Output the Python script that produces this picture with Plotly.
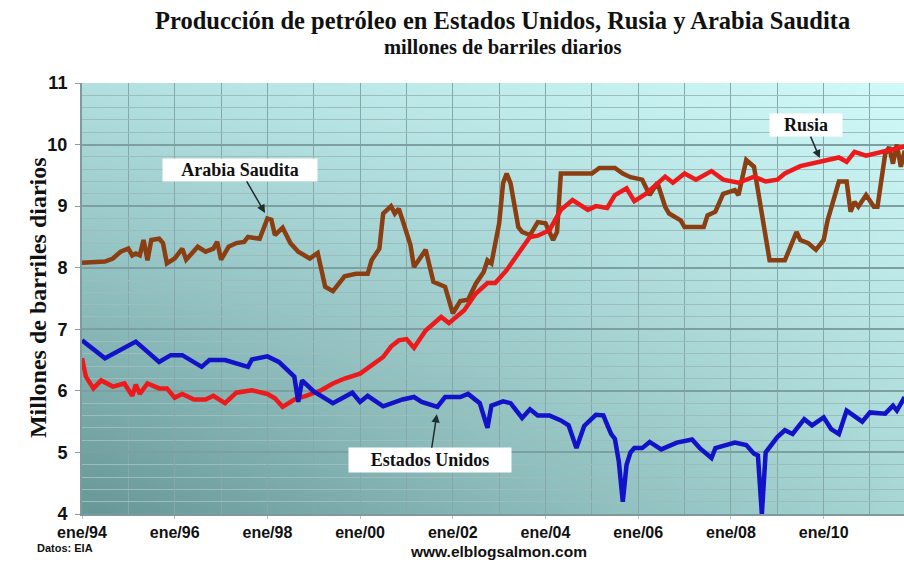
import base64, struct, zlib
import plotly.graph_objects as go

# ---------------- data (millones de barriles diarios) -------------
usa_dates = ["1994-01","1994-07","1995-03","1995-06","1995-09","1995-12","1996-03","1996-08","1996-10",
             "1997-02","1997-08","1997-09","1998-01","1998-04","1998-08","1998-09","1998-10","1999-01",
             "1999-03","1999-06","1999-11","2000-01","2000-03","2000-07","2000-12","2001-03","2001-05",
             "2001-09","2001-11","2002-03","2002-05","2002-08","2002-10","2002-11","2003-02","2003-04",
             "2003-07","2003-09","2003-11","2004-02","2004-05","2004-07","2004-09","2004-11","2005-02",
             "2005-04","2005-05","2005-06","2005-07","2005-08","2005-09","2005-10","2005-11","2005-12",
             "2006-02","2006-04","2006-07","2006-11","2007-03","2007-05","2007-08","2007-09","2008-02",
             "2008-05","2008-07","2008-08","2008-09","2008-10","2009-01","2009-03","2009-05","2009-08",
             "2009-10","2010-01","2010-03","2010-05","2010-07","2010-11","2011-01","2011-05","2011-07",
             "2011-08","2011-10"]
usa_values = [6.82,6.53,6.80,6.63,6.47,6.58,6.58,6.39,6.50,
              6.50,6.39,6.51,6.56,6.47,6.23,5.82,6.17,5.99,
              5.92,5.80,5.97,5.82,5.92,5.75,5.86,5.90,5.82,
              5.74,5.90,5.90,5.95,5.80,5.40,5.76,5.83,5.80,
              5.56,5.70,5.60,5.60,5.52,5.44,5.07,5.43,5.61,
              5.60,5.45,5.30,5.22,4.85,4.20,4.80,5.00,5.07,
              5.07,5.17,5.05,5.16,5.21,5.07,4.91,5.07,5.16,
              5.12,4.98,4.95,4.00,5.00,5.25,5.36,5.30,5.54,
              5.44,5.57,5.38,5.30,5.68,5.50,5.65,5.63,5.76,
              5.68,5.90]

rusia_dates = ["1994-01","1994-02","1994-04","1994-06","1994-09","1994-12","1995-02","1995-03","1995-04",
               "1995-06","1995-09","1995-11","1996-01","1996-03","1996-06","1996-09","1996-11","1997-02",
               "1997-05","1997-09","1998-01","1998-03","1998-05","1998-08","1998-11","1999-03","1999-06",
               "1999-09","2000-01","2000-05","2000-07","2000-09","2000-11","2001-01","2001-03","2001-06",
               "2001-10","2001-12","2002-04","2002-07","2002-10","2002-12","2003-03","2003-06","2003-09",
               "2003-11","2004-02","2004-05","2004-08","2004-12","2005-02","2005-05","2005-07","2005-10",
               "2005-12","2006-03","2006-08","2006-10","2007-01","2007-04","2007-08","2007-11","2008-03",
               "2008-07","2008-10","2009-01","2009-03","2009-07","2009-11","2010-02","2010-05","2010-07",
               "2010-09","2010-12","2011-04","2011-08","2011-10"]
rusia_values = [6.53,6.23,6.04,6.17,6.07,6.12,5.92,6.10,5.95,
                6.12,6.04,6.04,5.89,5.95,5.86,5.86,5.92,5.80,
                5.97,6.01,5.95,5.88,5.74,5.86,5.92,6.01,6.12,
                6.20,6.28,6.45,6.55,6.72,6.82,6.84,6.70,6.98,
                7.20,7.10,7.31,7.58,7.75,7.75,7.96,8.23,8.50,
                8.52,8.61,8.94,9.10,8.94,9.00,8.97,9.18,9.29,
                9.08,9.20,9.48,9.38,9.53,9.43,9.57,9.43,9.38,
                9.48,9.40,9.43,9.53,9.65,9.70,9.74,9.79,9.72,
                9.88,9.82,9.88,9.94,9.97]

arabia_dates = ["1994-01","1994-07","1994-09","1994-11","1995-01","1995-02","1995-03","1995-04","1995-05",
                "1995-06","1995-07","1995-09","1995-10","1995-11","1996-01","1996-03","1996-04","1996-07",
                "1996-09","1996-11","1996-12","1997-01","1997-03","1997-05","1997-07","1997-08","1997-11",
                "1998-01","1998-02","1998-03","1998-05","1998-07","1998-09","1998-12","1999-02","1999-04",
                "1999-06","1999-09","1999-12","2000-03","2000-04","2000-06","2000-07","2000-09","2000-10",
                "2000-11","2000-12","2001-02","2001-03","2001-06","2001-08","2001-11","2002-01","2002-03",
                "2002-05","2002-07","2002-09","2002-10","2002-11","2003-01","2003-02","2003-03","2003-04",
                "2003-06","2003-07","2003-09","2003-11","2004-01","2004-03","2004-04","2004-05","2004-08",
                "2005-01","2005-03","2005-07","2005-09","2005-11","2006-02","2006-04","2006-06","2006-08",
                "2006-09","2006-12","2007-01","2007-06","2007-07","2007-09","2007-11","2008-02","2008-03",
                "2008-05","2008-07","2008-08","2008-10","2008-11","2009-03","2009-06","2009-07","2009-09",
                "2009-11","2010-01","2010-02","2010-04","2010-05","2010-07","2010-08","2010-09","2010-10",
                "2010-12","2011-02","2011-03","2011-05","2011-06","2011-07","2011-08","2011-09","2011-10"]
arabia_values = [8.08,8.10,8.15,8.26,8.31,8.20,8.23,8.20,8.45,
                 8.12,8.45,8.47,8.40,8.07,8.15,8.31,8.13,8.34,
                 8.26,8.31,8.42,8.13,8.34,8.40,8.42,8.50,8.47,
                 8.80,8.78,8.53,8.65,8.40,8.26,8.15,8.24,7.69,
                 7.62,7.86,7.90,7.90,8.12,8.31,8.88,9.00,8.88,
                 8.96,8.77,8.37,8.01,8.29,7.77,7.69,7.26,7.46,
                 7.48,7.74,7.93,8.12,8.07,8.72,9.37,9.53,9.37,
                 8.66,8.58,8.53,8.74,8.72,8.45,8.58,9.53,9.53,
                 9.53,9.62,9.62,9.53,9.47,9.43,9.18,9.38,8.99,
                 8.88,8.77,8.66,8.66,8.85,8.91,9.20,9.26,9.18,
                 9.75,9.64,9.26,8.56,8.12,8.12,8.58,8.45,8.40,
                 8.29,8.45,8.77,9.20,9.40,9.40,8.91,9.07,8.99,
                 9.18,8.99,8.99,9.85,9.96,9.69,10.00,9.64,9.90]

tick_dates = ["1994-01-01","1996-01-01","1998-01-01","2000-01-01","2002-01-01",
              "2004-01-01","2006-01-01","2008-01-01","2010-01-01"]
tick_labels = ["ene/94","ene/96","ene/98","ene/00","ene/02","ene/04","ene/06","ene/08","ene/10"]

# ---------------- gradient background image -------------
def make_png(w, h, corners):
    tl, tr, bl, br = corners
    rows = []
    for j in range(h):
        v = j / (h - 1)
        row = bytearray([0])
        for i in range(w):
            u = i / (w - 1)
            for c in range(3):
                top = tl[c] * (1 - u) + tr[c] * u
                bot = bl[c] * (1 - u) + br[c] * u
                row.append(int(round(top * (1 - v) + bot * v)))
        rows.append(bytes(row))
    raw = b"".join(rows)
    def chunk(t, d):
        return struct.pack(">I", len(d)) + t + d + struct.pack(">I", zlib.crc32(t + d) & 0xffffffff)
    return (b"\x89PNG\r\n\x1a\n" + chunk(b"IHDR", struct.pack(">IIBBBBB", w, h, 8, 2, 0, 0, 0))
            + chunk(b"IDAT", zlib.compress(raw)) + chunk(b"IEND", b""))

bg_png = make_png(48, 48, [(178, 224, 224), (208, 249, 249), (104, 152, 152), (166, 214, 212)])
bg_uri = "data:image/png;base64," + base64.b64encode(bg_png).decode()

SERIF = "Liberation Serif, Times New Roman, serif"
SANS = "Liberation Sans, Arial, sans-serif"

fig = go.Figure()
fig.add_trace(go.Scatter(x=arabia_dates, y=arabia_values, mode="lines", name="Arabia Saudita",
                         line=dict(color="#8b3e12", width=4.5)))
fig.add_trace(go.Scatter(x=rusia_dates, y=rusia_values, mode="lines", name="Rusia",
                         line=dict(color="#ec1a1a", width=4.5)))
fig.add_trace(go.Scatter(x=usa_dates, y=usa_values, mode="lines", name="Estados Unidos",
                         line=dict(color="#1212c8", width=4.5)))

grid_major = "#86a8a8"
grid_minor = "#9dbcbc"

fig.update_layout(
    width=904, height=570,
    margin=dict(l=82, r=0, t=83, b=56),
    paper_bgcolor="white", plot_bgcolor="#9fcfcf",
    showlegend=False,
    images=[dict(source=bg_uri, xref="paper", yref="paper", x=0, y=1, sizex=1, sizey=1,
                 sizing="stretch", layer="below", xanchor="left", yanchor="top")],
    xaxis=dict(
        type="date", range=["1994-01-01", "2011-09-26"],
        tickmode="array", tickvals=tick_dates, ticktext=tick_labels,
        tickfont=dict(family=SANS, size=16, color="#111", weight="bold"),
        ticks="outside", ticklen=3, tickcolor="#b0c4c4",
        showgrid=True, gridcolor=grid_major, gridwidth=1.2,
        minor=dict(tickmode="linear", tick0="1994-01-01", dtick="M12",
                   showgrid=True, gridcolor=grid_major, gridwidth=1.2, ticks=""),
        showline=True, linecolor="#7f9a9a", linewidth=2,
        zeroline=False, fixedrange=True,
    ),
    yaxis=dict(
        range=[4, 11], dtick=1, tick0=4,
        tickfont=dict(family=SANS, size=18, color="#111", weight="bold"),
        ticks="outside", ticklen=5, tickcolor="#8aa0a0", ticklabelstandoff=4,
        showgrid=True, gridcolor="#7e9f9f", gridwidth=1.6,
        minor=dict(dtick=0.2, showgrid=True, gridcolor=grid_minor, gridwidth=1, ticks=""),
        showline=True, linecolor="#7f9a9a", linewidth=2,
        zeroline=False, fixedrange=True,
    ),
)

ann_font = dict(family=SERIF, size=18, color="#111")
arrow = dict(showarrow=True, arrowhead=2, arrowsize=1.1, arrowwidth=1.5, arrowcolor="#1f2d2d",
             bgcolor="white", font=ann_font, xanchor="center", yanchor="middle")
fig.add_annotation(x="1997-12-13", y=8.89, text="<b>Arabia Saudita</b>", ax=-25, ay=-43,
                   width=152, height=20, **arrow)
fig.add_annotation(x="2009-12-01", y=9.78, text="<b>Rusia</b>", ax=-14, ay=-33,
                   width=70, height=20, **arrow)
fig.add_annotation(x="2001-08-28", y=5.62, text="<b>Estados Unidos</b>", ax=-7, ay=46,
                   width=160, height=22, **arrow)

# titles and credits (plot area: x 82..904 px, y 83..514 px)
def txt(x, y, text, size, family, **kw):
    fig.add_annotation(xref="paper", yref="paper", x=x, y=y, showarrow=False, text=text,
                       font=dict(family=family, size=size, color="#111"),
                       xanchor=kw.pop("xanchor", "center"), yanchor="middle", **kw)

txt(0.512, 1.146, "<b>Producción de petróleo en Estados Unidos, Rusia y Arabia Saudita</b>", 24.5, SERIF)
txt(0.512, 1.083, "<b>millones de barriles diarios</b>", 20.5, SERIF)
txt(-0.0535, 0.501, "<b>Millones de barriles diarios</b>", 24, SERIF, textangle=-90)
txt(-0.057, -0.079, "<b>Datos: EIA</b>", 11, SANS, xanchor="left")
txt(0.507, -0.088, "<b>www.elblogsalmon.com</b>", 15.5, SANS)

fig.write_html("out.html", config={"displayModeBar": False},
               post_script="document.body.style.margin='0';document.body.style.overflow='hidden';")
